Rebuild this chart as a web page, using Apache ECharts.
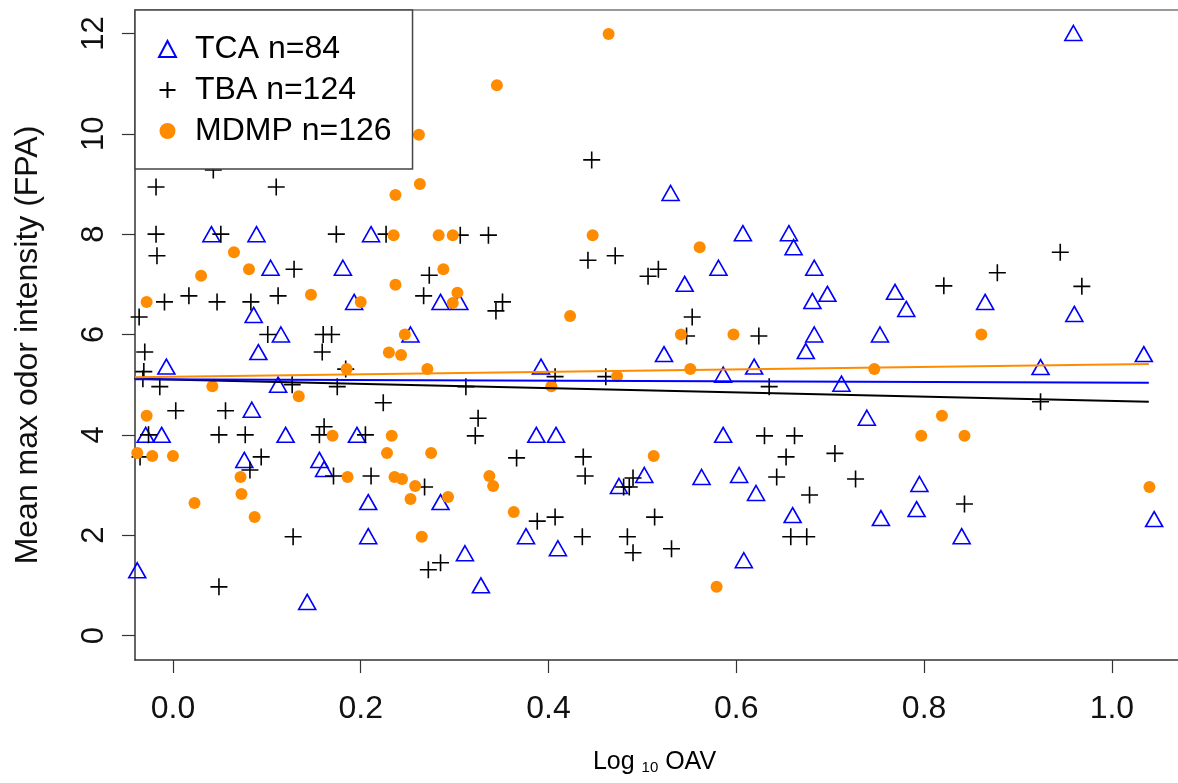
<!DOCTYPE html>
<html><head><meta charset="utf-8">
<script src="https://cdn.jsdelivr.net/npm/echarts@6/dist/echarts.min.js"></script>
<style>html,body{margin:0;padding:0;background:#fff}#c{width:1178px;height:783px}</style>
</head><body><div id="c"></div>
<script>
// ---- data ----
const seriesNames = ['TCA n=84', 'TBA n=124', 'MDMP n=126'];
const xTicks = [0, 0.2, 0.4, 0.6, 0.8, 1.0];
const yTicks = [0, 2, 4, 6, 8, 10, 12];

const tcaX = [-0.038,-0.029,-0.012,-0.007,0.041,0.089,0.104,0.181,0.086,0.115,0.091,0.193,0.211,0.253,0.112,0.084,0.076,0.120,0.156,0.161,0.196,0.208,0.208,0.143,0.285,0.311,0.328,0.387,0.408,0.376,0.410,0.475,0.502,0.563,0.285,0.305,0.392,0.545,0.523,0.530,0.607,0.656,0.661,0.581,0.683,0.681,0.697,0.683,0.674,0.769,0.781,0.753,0.865,0.586,0.619,0.712,0.739,0.586,0.603,0.621,0.660,0.608,0.754,0.795,0.792,0.840,0.959,0.960,0.924,1.034,1.045];
const tcaY = [1.30,4.00,4.00,5.36,8.00,8.00,7.33,7.33,6.39,6.00,5.65,6.65,8.00,6.00,5.00,4.50,3.50,4.00,3.50,3.32,4.00,2.66,1.98,0.67,2.66,1.64,1.00,4.00,4.00,1.98,1.74,2.98,3.20,3.16,6.65,6.65,5.36,7.01,5.61,8.82,8.02,8.02,7.74,7.33,7.33,6.67,6.81,6.00,5.67,6.85,6.51,6.00,6.65,5.20,5.36,5.02,4.34,4.00,3.20,2.84,2.40,1.50,2.34,3.02,2.52,1.98,12.01,6.41,5.35,5.61,2.32];

const tbaX = [-0.018,0.110,0.043,-0.018,0.051,-0.017,0.174,0.227,0.129,0.017,
-0.009,0.047,0.083,0.112,-0.036,0.101,0.160,0.169,0.159,-0.030,
-0.031,-0.032,-0.014,0.003,0.056,0.127,0.175,0.184,0.224,0.161,
-0.026,-0.035,0.049,0.077,0.094,0.082,0.156,0.205,0.171,0.211,
0.128,0.049,0.322,0.268,0.272,0.285,0.366,0.437,0.439,0.388,
0.407,0.436,0.480,0.486,0.490,0.484,0.490,0.513,0.531,0.306,
0.336,0.273,0.267,0.344,0.351,0.442,0.471,0.506,0.517,0.553,
0.547,0.312,0.407,0.461,0.325,0.446,0.624,0.635,0.821,0.630,
0.662,0.653,0.705,0.643,0.727,0.678,0.658,0.675,0.843,0.878,
0.945,0.968,0.924];
const tbaY = [8.94,8.94,9.28,8.00,8.00,7.57,8.00,8.00,7.30,6.77,
6.65,6.65,6.65,6.77,6.35,6.00,6.00,6.00,5.65,5.65,
5.26,5.12,4.96,4.48,4.48,5.00,4.96,5.31,4.64,4.16,
4.00,3.56,4.00,4.00,3.56,3.30,4.00,4.00,3.18,3.18,
1.97,0.97,3.98,2.96,1.31,1.45,3.54,3.56,3.18,2.28,
2.36,1.97,2.96,2.96,3.14,1.97,1.65,2.36,1.73,7.98,
7.98,7.18,6.77,6.47,6.65,7.48,7.57,7.16,7.30,6.35,
5.97,4.96,5.16,5.16,4.33,9.48,5.97,4.96,6.97,3.98,
3.98,3.56,3.63,3.16,3.12,2.80,1.97,1.97,2.62,7.23,
7.64,6.96,4.66];

const mdmpX = [0.262,0.237,0.263,0.464,0.345,0.065,0.081,0.030,-0.028,0.147,
0.200,0.235,0.237,0.247,0.230,0.243,0.185,0.042,0.134,-0.028,
-0.038,-0.022,0.000,0.023,0.072,0.073,0.087,0.170,0.233,0.228,
0.186,0.236,0.244,0.258,0.253,0.265,0.275,0.293,0.337,0.341,
0.363,0.512,0.283,0.298,0.288,0.303,0.298,0.447,0.423,0.561,
0.541,0.271,0.403,0.473,0.551,0.597,0.747,0.819,0.861,0.797,
0.843,0.579,1.040];
const mdmpY = [9.98,8.78,9.00,11.99,10.97,7.64,7.30,7.17,6.65,6.79,
6.65,7.98,6.99,6.00,5.64,5.59,5.31,4.97,4.77,4.38,
3.64,3.58,3.58,2.64,3.16,2.82,2.36,3.98,3.98,3.64,
3.16,3.16,3.12,2.98,2.72,1.97,3.64,2.76,3.18,2.98,
2.46,3.58,7.98,7.98,7.30,6.83,6.63,7.98,6.37,7.74,
6.00,5.31,4.97,5.17,5.31,6.00,5.31,4.38,6.00,3.98,
3.98,0.97,2.96];

// fitted lines (end values read at the plot's left and right edges)
const fitX = [-0.0404, 1.0393];
const fitTCA = [5.11, 5.04];
const fitTBA = [5.12, 4.66];
const fitMDMP = [5.146, 5.41];

// ---- chart ----
const FONT = '"Liberation Sans", Arial, Helvetica, sans-serif';
const NARROW = '"Liberation Sans Narrow", "Liberation Sans", sans-serif';
const pairs = (xs, ys) => xs.map((x, i) => [x, ys[i]]);
const xMin = -0.0404, xMax = 1.0704, yMin = -0.488, yMax = 12.468;

const chart = echarts.init(document.getElementById('c'), null, {renderer: 'canvas'});
const scatterBase = {type: 'scatter', silent: true, emphasis: {disabled: true}, clip: true};
const lineBase = {type: 'line', silent: true, symbol: 'none', showSymbol: false, emphasis: {disabled: true}, z: 4};

chart.setOption({
  animation: false,
  backgroundColor: '#fff',
  grid: {left: 135, top: 10, right: -30, bottom: 123},
  legend: {
    data: seriesNames, orient: 'vertical', left: 135, top: 10,
    backgroundColor: '#fff', borderColor: '#444', borderWidth: 1.5, borderRadius: 0,
    padding: [23, 21, 22, 23], itemGap: 9, itemWidth: 17, itemHeight: 16,
    textStyle: {fontSize: 32, color: '#000', fontFamily: FONT, padding: [0, 0, 0, 14]},
    selectedMode: false, z: 10
  },
  xAxis: [{
    type: 'value', min: xMin, max: xMax, position: 'bottom',
    axisLine: {show: true, onZero: false, lineStyle: {color: '#333', width: 1.5}},
    axisTick: {show: true, length: 13, customValues: xTicks, lineStyle: {color: '#333', width: 1.2}},
    axisLabel: {customValues: xTicks, formatter: v => v.toFixed(1), fontSize: 32, color: '#111', margin: 33, fontFamily: FONT},
    splitLine: {show: false},
    name: '{a|Log }{s|10}{a| OAV}', nameLocation: 'middle', nameGap: 87,
    nameTextStyle: {padding: [0, 4, 0, 0], rich: {
      a: {fontSize: 25, color: '#000', fontFamily: NARROW, lineHeight: 28, verticalAlign: 'bottom'},
      s: {fontSize: 15, color: '#000', fontFamily: NARROW, lineHeight: 17, verticalAlign: 'bottom'}
    }}
  }, {
    type: 'value', min: xMin, max: xMax, position: 'top',
    axisLine: {show: true, onZero: false, lineStyle: {color: '#999', width: 2}},
    axisTick: {show: false}, axisLabel: {show: false}, splitLine: {show: false}
  }],
  yAxis: {
    type: 'value', min: yMin, max: yMax,
    axisLine: {show: true, onZero: false, lineStyle: {color: '#333', width: 1.5}},
    axisTick: {show: true, length: 13, customValues: yTicks, lineStyle: {color: '#333', width: 1.2}},
    axisLabel: {customValues: yTicks, rotate: 90, fontSize: 31, color: '#111', margin: 25, fontFamily: FONT},
    splitLine: {show: false},
    name: 'Mean max odor intensity (FPA)', nameLocation: 'middle', nameRotate: 90, nameGap: 91,
    nameTextStyle: {fontSize: 32, color: '#111', fontFamily: FONT, padding: [0, 20, 0, 0]}
  },
  series: [
    Object.assign({}, scatterBase, {
      name: seriesNames[0], data: pairs(tcaX, tcaY), symbol: 'triangle', symbolSize: [17, 15],
      itemStyle: {color: 'rgba(0,0,0,0)', borderColor: '#0000ff', borderWidth: 1.6, opacity: 1}
    }),
    Object.assign({}, scatterBase, {
      name: seriesNames[1], data: pairs(tbaX, tbaY), symbol: 'path://M5,0L5,10M0,5L10,5', symbolSize: 17,
      itemStyle: {color: 'rgba(0,0,0,0)', borderColor: '#000', borderWidth: 1.6, opacity: 1}
    }),
    Object.assign({}, scatterBase, {
      name: seriesNames[2], data: pairs(mdmpX, mdmpY), symbol: 'circle', symbolSize: 12,
      itemStyle: {color: '#ff8c00', borderWidth: 0, opacity: 1}
    }),
    Object.assign({}, lineBase, {data: pairs(fitX, fitTBA), lineStyle: {color: '#000', width: 2}}),
    Object.assign({}, lineBase, {data: pairs(fitX, fitTCA), lineStyle: {color: '#0000ff', width: 2}}),
    Object.assign({}, lineBase, {data: pairs(fitX, fitMDMP), lineStyle: {color: '#ff8c00', width: 2}})
  ]
});
</script>
</body></html>
